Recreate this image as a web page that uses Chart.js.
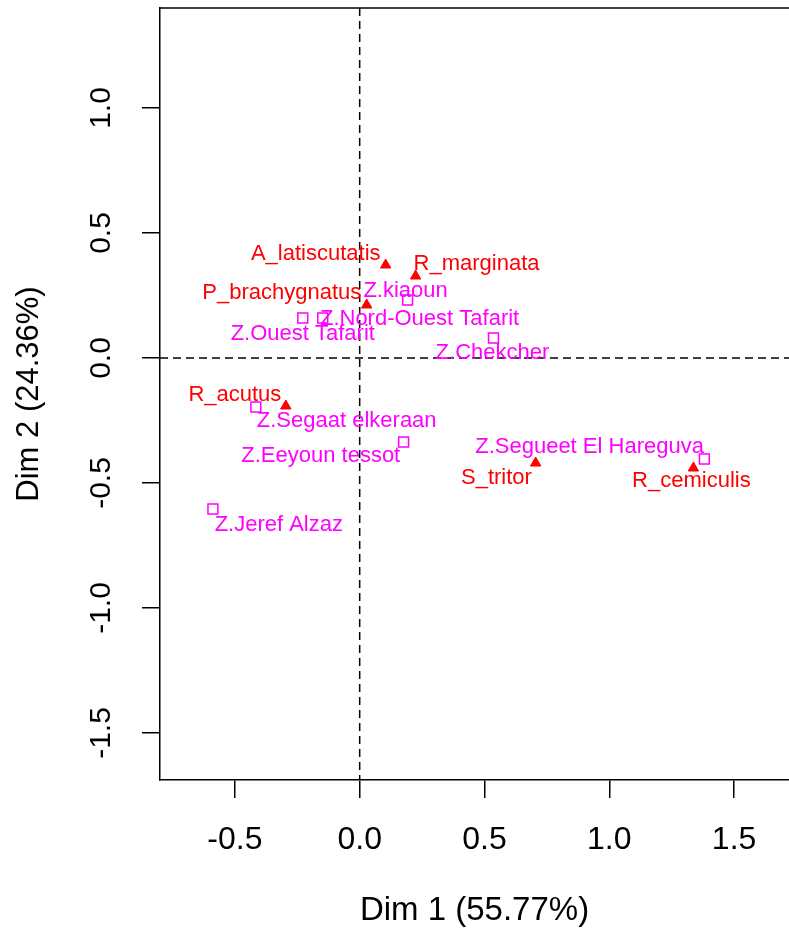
<!DOCTYPE html>
<html>
<head>
<meta charset="utf-8">
<script src="https://cdn.jsdelivr.net/npm/chart.js@4.4.0/dist/chart.umd.min.js"></script>
<style>
  html, body { margin: 0; padding: 0; background: #fff; overflow: hidden; }
  canvas { display: block; }
</style>
</head>
<body>
<canvas id="caPlot" width="789" height="936"></canvas>
<script>
// species (rows) - red triangles
const speciesNames = ['A_latiscutatis', 'R_marginata', 'P_brachygnatus', 'R_acutus', 'S_tritor', 'R_cemiculis'];
const speciesX = [0.104, 0.224, 0.028, -0.296, 0.705, 1.337];
const speciesY = [0.372, 0.328, 0.212, -0.192, -0.42, -0.44];
const speciesLabelX = [-0.176, 0.468, -0.312, -0.5, 0.548, 1.329];
const speciesLabelY = [0.416, 0.376, 0.26, -0.148, -0.48, -0.492];

// sites (columns) - magenta open squares
const siteNames = ['Z.kiaoun', 'Z.Ouest Tafarit', 'Z.Nord-Ouest Tafarit', 'Z.Chekcher', 'Z.Segaat elkeraan', 'Z.Eeyoun tessot', 'Z.Segueet El Hareguva', 'Z.Jeref Alzaz'];
const siteX = [0.192, -0.228, -0.148, 0.536, -0.416, 0.176, 1.381, -0.588];
const siteY = [0.232, 0.16, 0.16, 0.08, -0.196, -0.336, -0.404, -0.604];
const siteLabelX = [0.184, -0.228, 0.24, 0.532, -0.052, -0.156, 0.921, -0.324];
const siteLabelY = [0.268, 0.096, 0.156, 0.02, -0.252, -0.392, -0.356, -0.668];

const xTicks = [-0.5, 0.0, 0.5, 1.0, 1.5];
const yTicks = [-1.5, -1.0, -0.5, 0.0, 0.5, 1.0];

const FONT = '"Liberation Sans", Arial, sans-serif';

const caOverlay = {
    id: 'caOverlay',
    beforeDatasetsDraw(chart) {
        const { ctx, chartArea, scales } = chart;
        const x0 = scales.x.getPixelForValue(0);
        const y0 = scales.y.getPixelForValue(0);
        ctx.save();
        ctx.strokeStyle = '#000';
        ctx.lineWidth = 1.5;
        ctx.setLineDash([8, 5]);
        ctx.beginPath();
        ctx.moveTo(x0, chartArea.top);
        ctx.lineTo(x0, chartArea.bottom);
        ctx.moveTo(chartArea.left, y0);
        ctx.lineTo(chartArea.right, y0);
        ctx.stroke();
        ctx.setLineDash([]);
        // top frame line
        ctx.beginPath();
        ctx.moveTo(chartArea.left, chartArea.top);
        ctx.lineTo(chartArea.right, chartArea.top);
        ctx.stroke();
        ctx.restore();
    },
    afterDatasetsDraw(chart) {
        const { ctx, scales } = chart;
        ctx.save();
        ctx.font = '22px ' + FONT;
        ctx.textAlign = 'center';
        ctx.textBaseline = 'middle';
        ctx.fillStyle = '#ff0000';
        speciesNames.forEach((name, i) => {
            ctx.fillText(name, scales.x.getPixelForValue(speciesLabelX[i]), scales.y.getPixelForValue(speciesLabelY[i]));
        });
        ctx.fillStyle = '#ff00ff';
        siteNames.forEach((name, i) => {
            ctx.fillText(name, scales.x.getPixelForValue(siteLabelX[i]), scales.y.getPixelForValue(siteLabelY[i]));
        });

        // rotated y tick labels, R style
        ctx.fillStyle = '#000';
        ctx.font = '30px ' + FONT;
        yTicks.forEach(v => {
            ctx.save();
            ctx.translate(102, scales.y.getPixelForValue(v));
            ctx.rotate(-Math.PI / 2);
            ctx.fillText(v.toFixed(1), 0, 0);
            ctx.restore();
        });
        ctx.restore();
    }
};

const ctx = document.getElementById('caPlot').getContext('2d');
new Chart(ctx, {
    type: 'scatter',
    data: {
        datasets: [{
            label: 'species',
            data: speciesX.map((x, i) => ({ x: x, y: speciesY[i] })),
            pointStyle: 'triangle',
            pointRadius: 6,
            backgroundColor: '#ff0000',
            borderColor: '#ff0000',
            borderWidth: 1
        }, {
            label: 'sites',
            data: siteX.map((x, i) => ({ x: x, y: siteY[i] })),
            pointStyle: 'rect',
            pointRadius: 7,
            backgroundColor: 'rgba(255,255,255,0)',
            borderColor: '#ff00ff',
            borderWidth: 1.5
        }]
    },
    options: {
        responsive: false,
        animation: false,
        layout: { autoPadding: false, padding: { top: 8, right: 0, left: 0, bottom: 0 } },
        plugins: {
            legend: { display: false },
            tooltip: { enabled: false }
        },
        scales: {
            x: {
                type: 'linear',
                min: -0.8,
                max: 1.72,
                afterBuildTicks: axis => { axis.ticks = xTicks.map(v => ({ value: v })); },
                afterFit: axis => {
                    axis.height = 156;
                    axis.paddingRight = 0;
                    axis.paddingLeft = 0;
                },
                grid: { drawOnChartArea: false, drawTicks: true, tickLength: 18, color: '#000', lineWidth: 1.5 },
                border: { display: true, color: '#000', width: 1.5 },
                ticks: {
                    color: '#000',
                    font: { family: FONT, size: 32 },
                    padding: 23,
                    maxRotation: 0,
                    callback: v => v.toFixed(1)
                },
                title: {
                    display: true,
                    text: 'Dim 1 (55.77%)',
                    color: '#000',
                    font: { family: FONT, size: 33 },
                    padding: { top: 0, bottom: 5 }
                }
            },
            y: {
                type: 'linear',
                min: -1.688,
                max: 1.4,
                afterBuildTicks: axis => { axis.ticks = yTicks.map(v => ({ value: v })); },
                afterFit: axis => {
                    axis.width = 160;
                    axis.paddingTop = 0;
                    axis.paddingBottom = 0;
                },
                grid: { drawOnChartArea: false, drawTicks: true, tickLength: 18, color: '#000', lineWidth: 1.5 },
                border: { display: true, color: '#000', width: 1.5 },
                ticks: { display: false },
                title: {
                    display: true,
                    text: 'Dim 2 (24.36%)',
                    color: '#000',
                    font: { family: FONT, size: 31 },
                    padding: { top: 11, bottom: 0 }
                }
            }
        }
    },
    plugins: [caOverlay]
});
</script>
</body>
</html>
